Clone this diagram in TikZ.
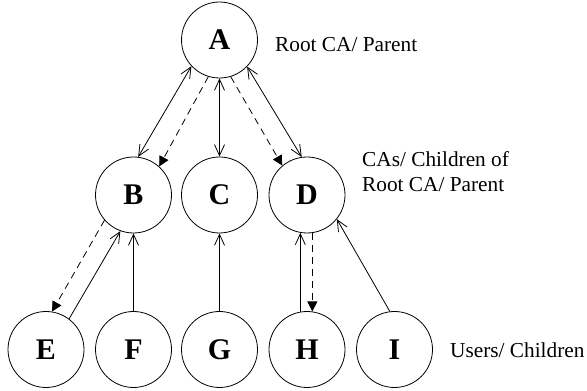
\documentclass[tikz,border=0pt]{standalone}
\usepackage{fontspec}
\setmainfont{Liberation Serif}
\usetikzlibrary{arrows.meta}
\begin{document}
\begin{tikzpicture}[x=1pt,y=1pt,
  circnode/.style={draw,circle,line width=0.8pt,minimum size=76pt,inner sep=0pt,font=\fontsize{30}{30}\selectfont\bfseries},
  lbl/.style={anchor=base west,inner sep=0pt,font=\fontsize{21.3}{25}\selectfont,align=left},
  conn/.style={line width=0.8pt},
  openarr/.style={-{Straight Barb[length=11pt,width=10pt,line width=0.8pt]}},
  botharr/.style={{Straight Barb[length=11pt,width=10pt,line width=0.8pt]}-{Straight Barb[length=11pt,width=10pt,line width=0.8pt]}},
  dasharr/.style={dash pattern=on 7pt off 5pt,-{Triangle[length=10pt,width=10pt]}}]
\useasboundingbox (0,0) rectangle (587,391);
\node[circnode] (A) at (219.5,351) {A};
\node[circnode] (B) at (133.5,196) {B};
\node[circnode] (C) at (219.5,196) {C};
\node[circnode] (D) at (307,196) {D};
\node[circnode] (E) at (46,41.5) {E};
\node[circnode] (F) at (133.5,41.5) {F};
\node[circnode] (G) at (219.5,41.5) {G};
\node[circnode] (H) at (307,41.5) {H};
\node[circnode] (I) at (394.5,41.5) {I};
\node[lbl] (l1) at (275,339) {Root CA/ Parent};
\node[lbl] (l2) at (362,199) {CAs/ Children of\\Root CA/ Parent};
\node[lbl] (l3) at (450,33) {Users/ Children};
% A to row 2
\draw[conn,botharr] (A.223) -- (B.83);
\draw[conn,dasharr] (A.253) -- (B.48);
\draw[conn,botharr] (A.270) -- (C.90);
\draw[conn,dasharr] (A.287) -- (D.130);
\draw[conn,botharr] (A.316) -- (D.98);
% B
\draw[conn,dasharr] (B.221) -- (E.81);
\draw[conn,openarr] (E.53) -- (B.250);
\draw[conn,openarr] (F.90) -- (B.270);
% C
\draw[conn,openarr] (G.90) -- (C.270);
% D
\draw[conn,openarr] (H.100) -- (D.260);
\draw[conn,dasharr] (D.278) -- (H.82);
\draw[conn,openarr] (I.97) -- (D.321);
\end{tikzpicture}
\end{document}
